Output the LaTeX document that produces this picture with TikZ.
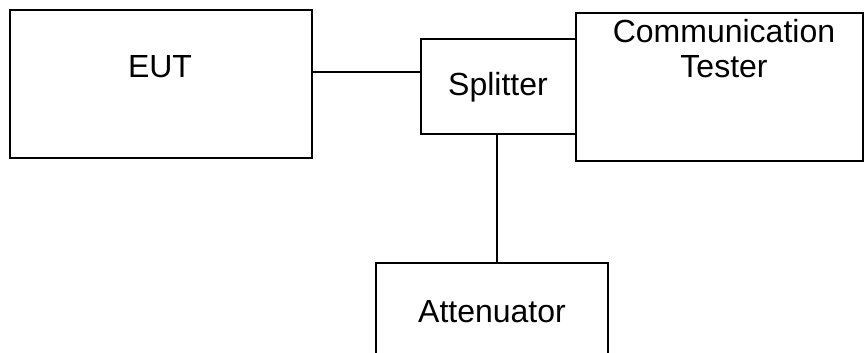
\documentclass[tikz,border=0pt]{standalone}
\usepackage{fontspec}
\setmainfont{Liberation Sans}
\begin{document}
\begin{tikzpicture}[x=1pt,y=-1pt,
  box/.style={draw=black,line width=1.6pt,rectangle,inner sep=0pt},
  lbl/.style={inner sep=0pt,font=\fontsize{32}{35}\selectfont,align=center},
  wire/.style={draw=black,line width=1.6pt}]
\useasboundingbox (0,0) rectangle (864,353);
\node[box,minimum width=302pt,minimum height=148pt] (eut) at (161,84) {};
\node[box,minimum width=155pt,minimum height=95pt] (split) at (498.5,86.5) {};
\node[box,minimum width=287pt,minimum height=148pt] (tester) at (719.5,87) {};
\node[box,minimum width=232pt,minimum height=148pt] (att) at (492,337) {};
\node[lbl] (eutl) at (160,67) {EUT};
\node[lbl] (splitl) at (498,87) {Splitter};
\node[lbl] (testerl) at (724,49) {Communication\\Tester};
\node[lbl] (attl) at (492,312) {Attenuator};
\draw[wire] (eut.east |- 0,72) -- (split.west |- 0,72);
\draw[wire] (split.south -| 497,0) -- (att.north -| 497,0);
\end{tikzpicture}
\end{document}
